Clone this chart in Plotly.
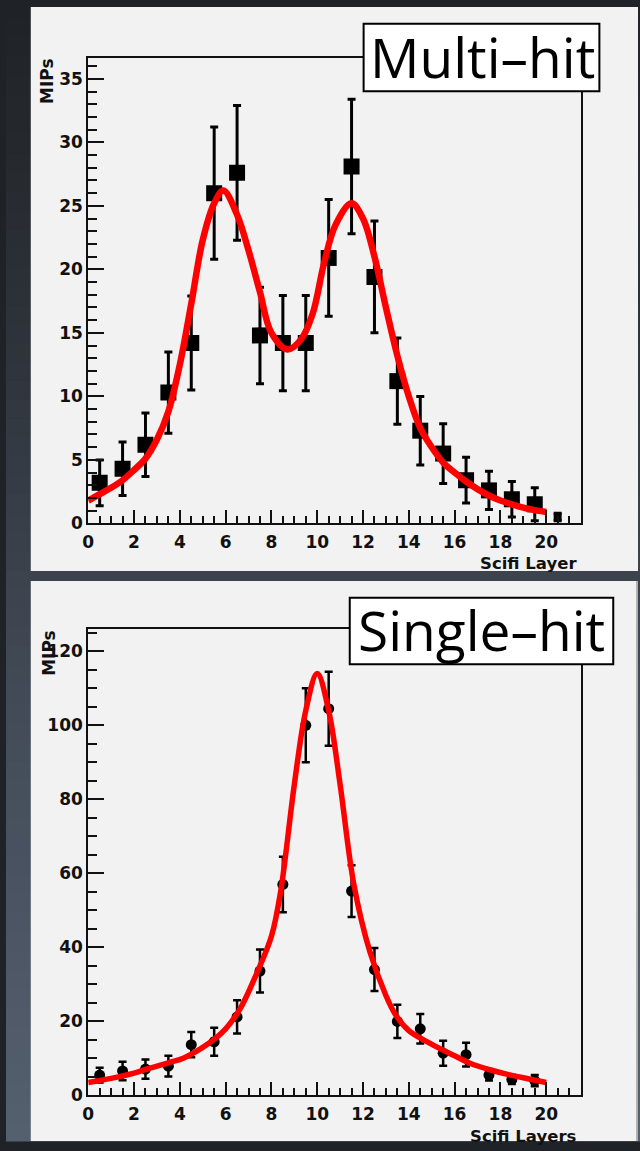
import plotly.graph_objects as go

# ---------------- data ----------------
# Multi-hit histogram (bin centres, MIPs, errors)
multi_x = [0.5, 1.5, 2.5, 3.5, 4.5, 5.5, 6.5, 7.5, 8.5, 9.5, 10.5,
           11.5, 12.5, 13.5, 14.5, 15.5, 16.5, 17.5, 18.5, 19.5, 20.5]
multi_y = [3.2, 4.3, 6.2, 10.3, 14.2, 26.0, 27.6, 14.8, 14.2, 14.2, 20.9,
           28.1, 19.4, 11.2, 7.3, 5.5, 3.4, 2.6, 1.9, 1.5, 0.5]
multi_err = [1.8, 2.1, 2.5, 3.2, 3.7, 5.2, 5.3, 3.8, 3.75, 3.75, 4.6,
             5.3, 4.4, 3.4, 2.7, 2.35, 1.8, 1.5, 1.4, 1.3, 0.3]

# Multi-hit fit curve
mfit_x = [0, 0.5, 1, 1.5, 2, 2.5, 3, 3.5, 4, 4.5, 5, 5.5, 5.9, 6.5, 7, 7.5, 8,
          8.7, 9.3, 9.8, 10.3, 10.8, 11.5, 12, 12.5, 13, 13.5, 14, 14.5, 15,
          15.5, 16, 16.5, 17, 17.5, 18, 18.5, 19, 19.5, 20]
mfit_y = [1.8, 2.3, 2.8, 3.4, 4.2, 5.1, 6.6, 8.8, 12.5, 17.3, 22.3, 25.2, 26.2,
          24.3, 21.5, 18.2, 15.0, 13.7, 14.5, 16.5, 20.5, 23.5, 25.2, 24.0,
          21.0, 17.0, 13.2, 10.0, 7.5, 6.0, 4.8, 4.0, 3.3, 2.7, 2.2, 1.8, 1.5,
          1.25, 1.05, 0.9]

# Single-hit histogram
single_x = [0.5, 1.5, 2.5, 3.5, 4.5, 5.5, 6.5, 7.5, 8.5, 9.5, 10.5,
            11.5, 12.5, 13.5, 14.5, 15.5, 16.5, 17.5, 18.5, 19.5]
single_y = [5.5, 6.6, 7.1, 7.9, 13.7, 14.5, 21.2, 33.6, 57.0, 100.0, 104.5,
            55.2, 34.0, 20.0, 18.0, 11.4, 11.0, 5.5, 4.3, 4.0]
single_err = [2.0, 2.5, 2.6, 2.8, 3.4, 3.8, 4.5, 5.8, 7.5, 10.0, 10.0,
              7.0, 5.8, 4.5, 4.0, 3.4, 3.2, 1.5, 1.2, 1.5]

# Single-hit fit curve
sfit_x = [0, 1, 2, 2.6, 3.5, 4.2, 5.25, 6, 6.65, 7.36, 8, 8.4, 9, 9.5, 10,
          10.5, 11, 11.6, 12.3, 13, 13.4, 14, 14.95, 16, 16.7, 17.5, 18.5,
          19.2, 20]
sfit_y = [3.5, 4.6, 6.0, 7.2, 8.8, 10.2, 14.0, 18.0, 23.6, 33.0, 43.0, 55.0,
          84.0, 104.0, 114.0, 104.0, 84.0, 57.0, 38.8, 27.0, 22.0, 17.5, 14.0,
          10.7, 8.6, 7.0, 5.4, 4.5, 3.5]

titles = ["Multi\u2013hit", "Single\u2013hit"]
ytitle = "MIPs"
xtitles = ["Scifi Layer", "Scifi Layers"]

# ---------------- layout helpers ----------------
W, H = 640, 1151
def px(x):
    return x / W
def py(y):
    return 1 - y / H

fig = go.Figure()

fig.add_trace(go.Scatter(
    x=multi_x, y=multi_y, mode="markers",
    marker=dict(symbol="square", size=[16]*20 + [8], color="black", opacity=1,
                line=dict(width=0)),
    error_y=dict(type="data", array=multi_err, color="black", thickness=3, width=4),
    xaxis="x", yaxis="y", showlegend=False, hoverinfo="skip"))
fig.add_trace(go.Scatter(
    x=mfit_x, y=mfit_y, mode="lines", line=dict(color="#ff0000", width=6.5, shape="spline"),
    xaxis="x", yaxis="y", showlegend=False, hoverinfo="skip"))

fig.add_trace(go.Scatter(
    x=single_x, y=single_y, mode="markers",
    marker=dict(symbol="circle", size=11, color="black", opacity=1, line=dict(width=0)),
    error_y=dict(type="data", array=single_err, color="black", thickness=2.5, width=4),
    xaxis="x2", yaxis="y2", showlegend=False, hoverinfo="skip"))
fig.add_trace(go.Scatter(
    x=sfit_x, y=sfit_y, mode="lines", line=dict(color="#ff0000", width=5.5, shape="spline"),
    xaxis="x2", yaxis="y2", showlegend=False, hoverinfo="skip"))

tickfont = dict(family="DejaVu Sans", size=17, color="#111", weight="bold")

def xaxis_cfg(anchor):
    return dict(domain=[px(83), px(580)], range=[0, 21.5], anchor=anchor,
                showline=True, linecolor="#111", linewidth=2, mirror=True,
                ticks="inside", ticklen=13, tickwidth=2, tickcolor="#111",
                dtick=2, tick0=0, tickfont=tickfont, showgrid=False, zeroline=False,
                ticklabelstandoff=2,
                minor=dict(ticks="inside", ticklen=7, tickwidth=2, tickcolor="#111",
                           dtick=0.5, showgrid=False))

def yaxis_cfg(anchor, dom, rng, dt, mdt):
    return dict(domain=dom, range=rng, anchor=anchor,
                showline=True, linecolor="#111", linewidth=2, mirror=True,
                ticks="inside", ticklen=16, tickwidth=2, tickcolor="#111",
                dtick=dt, tick0=0, tickfont=tickfont, showgrid=False, zeroline=False,
                ticklabelstandoff=0,
                minor=dict(ticks="inside", ticklen=9, tickwidth=2, tickcolor="#111",
                           dtick=mdt, showgrid=False))

shapes = []
# outer gradient background
stops = [(0, (31, 34, 38)), (300, (44, 48, 55)), (575, (59, 66, 76)),
         (700, (66, 74, 87)), (1151, (85, 96, 111))]
N = 60
for i in range(N):
    y0 = H * i / N
    y1 = H * (i + 1) / N
    ym = (y0 + y1) / 2
    for j in range(len(stops) - 1):
        if stops[j][0] <= ym <= stops[j + 1][0]:
            t = (ym - stops[j][0]) / (stops[j + 1][0] - stops[j][0])
            c = tuple(int(round(stops[j][1][k] + t * (stops[j + 1][1][k] - stops[j][1][k]))) for k in range(3))
            break
    shapes.append(dict(type="rect", xref="paper", yref="paper", x0=0, x1=1,
                       y0=py(y1 + 0.5), y1=py(y0), fillcolor="rgb(%d,%d,%d)" % c,
                       line=dict(width=0), layer="below"))
# panels
shapes.append(dict(type="rect", xref="paper", yref="paper", x0=px(25), x1=px(638),
                   y0=py(576), y1=py(7), fillcolor="#f2f2f2", line=dict(width=0), layer="below"))
shapes.append(dict(type="rect", xref="paper", yref="paper", x0=px(25), x1=px(638),
                   y0=py(1151), y1=py(586), fillcolor="#f2f2f2", line=dict(width=0), layer="below"))
shapes.append(dict(type="line", xref="paper", yref="paper", x0=px(637), x1=px(637),
                   y0=py(1151), y1=py(586), line=dict(color="#9a9a9a", width=1.5), layer="below"))
# title boxes
shapes.append(dict(type="rect", xref="paper", yref="paper", x0=px(361), x1=px(599),
                   y0=py(92), y1=py(24), fillcolor="white", line=dict(color="black", width=2),
                   layer="above"))
shapes.append(dict(type="rect", xref="paper", yref="paper", x0=px(347), x1=px(613),
                   y0=py(670), y1=py(603), fillcolor="white", line=dict(color="black", width=2),
                   layer="above"))

labfont = dict(family="DejaVu Sans", size=17, color="#111", weight="bold")
xlabfont = dict(family="DejaVu Sans", size=16.5, color="#111", weight="bold")
annotations = [
    dict(text=titles[0], xref="paper", yref="paper", x=px(481), y=py(57),
         xanchor="center", yanchor="middle", showarrow=False,
         font=dict(family="Open Sans", size=55, color="black")),
    dict(text=titles[1], xref="paper", yref="paper", x=px(480), y=py(635),
         xanchor="center", yanchor="middle", showarrow=False,
         font=dict(family="Open Sans", size=55, color="black")),
    dict(text=ytitle, xref="paper", yref="paper", x=px(42), y=py(82), textangle=-90,
         xanchor="center", yanchor="middle", showarrow=False, font=labfont),
    dict(text=ytitle, xref="paper", yref="paper", x=px(44), y=py(659), textangle=-90,
         xanchor="center", yanchor="middle", showarrow=False, font=labfont),
    dict(text=xtitles[0], xref="paper", yref="paper", x=px(578), y=py(568.5),
         xanchor="right", yanchor="middle", showarrow=False, font=xlabfont),
    dict(text=xtitles[1], xref="paper", yref="paper", x=px(578), y=py(1146),
         xanchor="right", yanchor="middle", showarrow=False, font=xlabfont),
]

fig.update_layout(
    width=W, height=H, margin=dict(l=0, r=0, t=0, b=0),
    paper_bgcolor="#1f2226", plot_bgcolor="#f2f2f2",
    xaxis=xaxis_cfg("y"),
    yaxis=yaxis_cfg("x", [py(528), py(59)], [0, 36.6], 5, 1),
    xaxis2=xaxis_cfg("y2"),
    yaxis2=yaxis_cfg("x2", [py(1105), py(635)], [0, 125.9], 20, 5),
    shapes=shapes, annotations=annotations, showlegend=False,
)

fig.write_html("out.html")
